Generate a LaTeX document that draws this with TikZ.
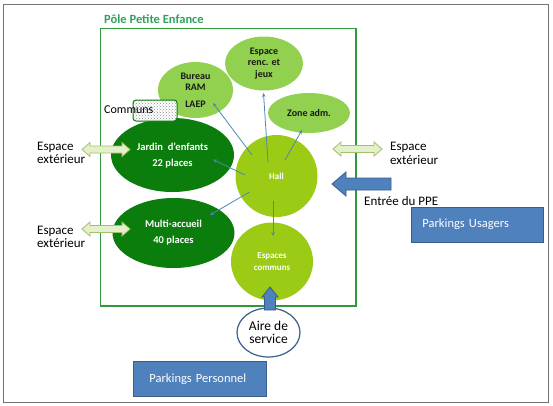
\documentclass[tikz,border=0pt]{standalone}
\usepackage{fontspec}
\setmainfont{Carlito}
\usetikzlibrary{shapes.geometric,patterns,arrows.meta}
\definecolor{darkg}{HTML}{0A7D0C}
\definecolor{hallg}{HTML}{9BCB14}
\definecolor{lightg}{HTML}{92D050}
\definecolor{frameg}{HTML}{2F9A3A}
\definecolor{titleg}{HTML}{2EA35C}
\definecolor{blueF}{HTML}{4F81BD}
\definecolor{blueD}{HTML}{385D8A}
\definecolor{connc}{HTML}{4F86B5}
\definecolor{paleF}{HTML}{E4EFCB}
\definecolor{paleD}{HTML}{A3C164}
\begin{document}
\begin{tikzpicture}[x=1pt,y=-1pt,
  room/.style={ellipse, inner sep=0pt, align=center, font=\bfseries\fontsize{10}{11.5}\selectfont},
  lightroom/.style={room, fill=lightg, text=black!90},
  darkroom/.style={room, fill=darkg, text=white, font=\bfseries\fontsize{10.5}{16}\selectfont},
  bigroom/.style={room, fill=hallg, text=white, font=\bfseries\fontsize{9}{11.5}\selectfont},
  conn/.style={draw=connc, line width=0.8pt, -{Stealth[length=4pt,width=3.5pt]}},
  pale/.style={fill=paleF, draw=paleD, line width=0.8pt},
  bluearrow/.style={fill=blueF, draw=blueD, line width=0.8pt},
  bluebox/.style={rectangle, fill=blueF, draw=blueD, line width=0.8pt, text=white,
    font=\fontsize{12.5}{14}\selectfont, align=left, minimum height=35pt, inner ysep=0pt},
  lbl/.style={font=\fontsize{13}{13.5}\selectfont, align=left, inner sep=0pt}
]
\useasboundingbox (0,0) rectangle (553,405);
\draw[black!55, line width=1pt] (3,4) rectangle (548,402);

% Pole frame
\node[anchor=west, inner sep=0pt, text=titleg, font=\bfseries\fontsize{12.5}{14}\selectfont] (title) at (104,19.5) {Pôle Petite Enfance};
\draw[frameg, line width=1.5pt] (100.5,28.5) rectangle (356,306);

% rooms
\node[lightroom, minimum width=75pt, minimum height=56pt] (bureau) at (195.5,90) {Bureau\\RAM\\[5pt]LAEP};
\node[lightroom, minimum width=78pt, minimum height=54pt] (renc) at (264,63.5) {Espace\\renc. et\\jeux};
\node[lightroom, minimum width=82pt, minimum height=40pt] (zone) at (309,113) {Zone adm.};
\node[darkroom, minimum width=123pt, minimum height=74pt] (jardin) at (172.5,155) {Jardin\ \ d'enfants\\22 places};
\node[darkroom, minimum width=122pt, minimum height=70pt] (multi) at (173.5,233) {Multi-accueil\\40 places};
\node[bigroom, minimum width=82pt, minimum height=82pt] (hall) at (276.5,176) {Hall};
\node[bigroom, minimum width=82pt, minimum height=78pt] (communs) at (272,261.5) {Espaces\\communs};

% Communs patterned box
\node[draw=darkg, line width=1pt, rounded corners=3pt, preaction={fill=white},
  pattern=crosshatch dots, pattern color=black!45, minimum width=44pt, minimum height=21pt, inner sep=0pt] (cbox) at (155,110.5) {};
\node[anchor=west, inner sep=0pt, font=\fontsize{12}{13}\selectfont] (ctext) at (104,110) {Communs};

% connectors from the hall
\coordinate (h1) at (252,155); \coordinate (t1) at (213,103);
\coordinate (h2) at (268,162); \coordinate (t2) at (263.5,93);
\coordinate (h3) at (285,160); \coordinate (t3) at (302,130);
\coordinate (h4) at (245,175); \coordinate (t4) at (213,159.5);
\coordinate (h5) at (249.5,192); \coordinate (t5) at (210,215);
\coordinate (h6) at (273,201); \coordinate (t6) at (273,236);
\draw[conn] (h1) -- (t1);
\draw[conn] (h2) -- (t2);
\draw[conn] (h3) -- (t3);
\draw[conn] (h4) -- (t4);
\draw[conn] (h5) -- (t5);
\draw[conn] (h6) -- (t6);

% exterior double arrows
\path[pale] (82,149.5) -- (90,142.5) -- (90,146) -- (122,146) -- (122,142.5) -- (130,149.5)
  -- (122,156.5) -- (122,153) -- (90,153) -- (90,156.5) -- cycle;
\path[pale] (82,229) -- (90,222) -- (90,225.5) -- (122,225.5) -- (122,222) -- (130,229)
  -- (122,236) -- (122,232.5) -- (90,232.5) -- (90,236) -- cycle;
\path[pale] (333,149) -- (341,142) -- (341,145.5) -- (374,145.5) -- (374,142) -- (382,149)
  -- (374,156) -- (374,152.5) -- (341,152.5) -- (341,156) -- cycle;
\node[lbl, anchor=west] (extA) at (37,153) {Espace\\extérieur};
\node[lbl, anchor=west] (extB) at (37,237) {Espace\\extérieur};
\node[lbl, anchor=west] (extC) at (390,153.5) {Espace\\extérieur};

% entrance
\path[bluearrow] (332,184) -- (346,172) -- (346,178) -- (391,178) -- (391,190) -- (346,190) -- (346,196) -- cycle;
\node[lbl, anchor=west] (entree) at (364,201) {Entrée du PPE};
\node[bluebox, inner xsep=11pt, text width=110pt, anchor=west] (pusagers) at (411,224.5) {Parkings Usagers};

% service
\node[ellipse, draw=blueD, line width=1.2pt, fill=white, minimum width=63pt, minimum height=49pt,
  inner sep=0pt, align=center, font=\fontsize{13.5}{13.5}\selectfont] (aire) at (268.5,332.5) {Aire de\\service};
\path[bluearrow] (270,287) -- (278,297) -- (275.5,297) -- (275.5,310) -- (264.5,310) -- (264.5,297) -- (262,297) -- cycle;
\node[bluebox, inner xsep=16pt, text width=101pt, anchor=west] (ppersonnel) at (133,379) {Parkings Personnel};
\end{tikzpicture}
\end{document}
